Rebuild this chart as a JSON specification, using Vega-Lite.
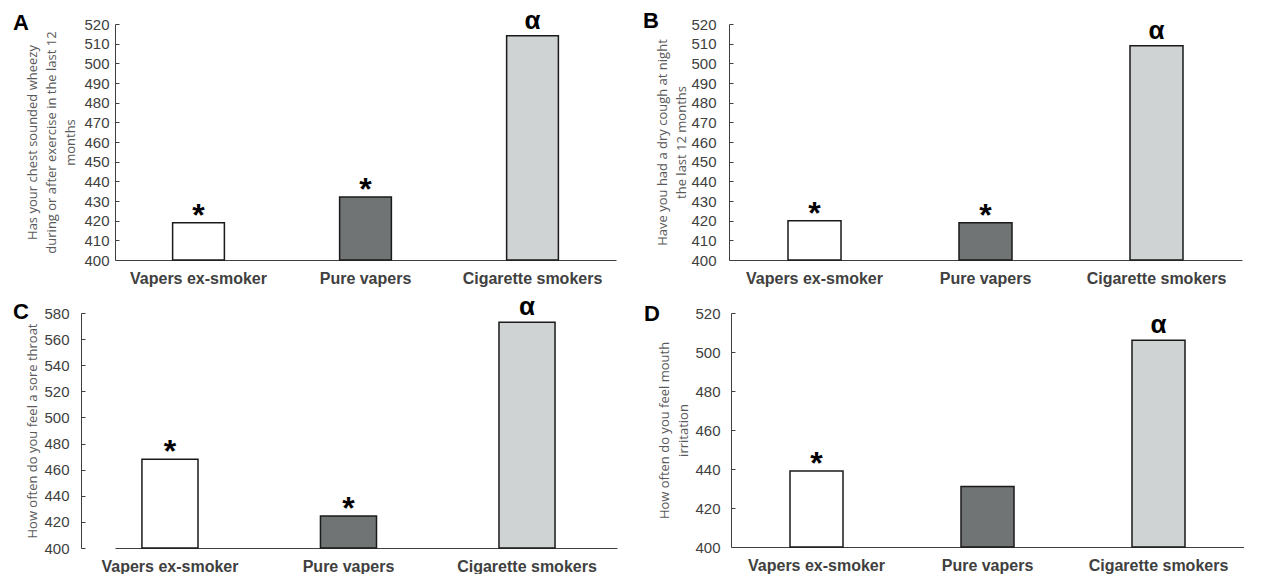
{
  "$schema": "https://vega.github.io/schema/vega-lite/v6.json",
  "background": "white",
  "padding": {"left": 12, "top": 7, "right": 0, "bottom": 0},
  "datasets": {
    "bars": [
      {"panel": "A", "group": "Vapers ex-smoker", "value": 419, "star": "*", "alpha": ""},
      {"panel": "A", "group": "Pure vapers", "value": 432, "star": "*", "alpha": ""},
      {"panel": "A", "group": "Cigarette smokers", "value": 514, "star": "", "alpha": "α"},
      {"panel": "B", "group": "Vapers ex-smoker", "value": 420, "star": "*", "alpha": ""},
      {"panel": "B", "group": "Pure vapers", "value": 419, "star": "*", "alpha": ""},
      {"panel": "B", "group": "Cigarette smokers", "value": 509, "star": "", "alpha": "α"},
      {"panel": "C", "group": "Vapers ex-smoker", "value": 468, "star": "*", "alpha": ""},
      {"panel": "C", "group": "Pure vapers", "value": 424.5, "star": "*", "alpha": ""},
      {"panel": "C", "group": "Cigarette smokers", "value": 573, "star": "", "alpha": "α"},
      {"panel": "D", "group": "Vapers ex-smoker", "value": 439, "star": "*", "alpha": ""},
      {"panel": "D", "group": "Pure vapers", "value": 431, "star": "", "alpha": ""},
      {"panel": "D", "group": "Cigarette smokers", "value": 506, "star": "", "alpha": "α"}
    ]
  },
  "config": {
    "view": {"stroke": null},
    "axis": {"grid": false, "domainColor": "#404040", "tickColor": "#404040"},
    "axisX": {"ticks": false, "labelFont": "Liberation Sans", "labelFontSize": 16, "labelFontWeight": "bold", "labelColor": "#404040", "labelPadding": 10, "labelAngle": 0, "title": null},
    "axisY": {"tickSize": -4, "labelFont": "Liberation Sans", "labelFontSize": 15, "labelColor": "#404040", "titleFont": "Open Sans", "titleFontSize": 13, "titleFontWeight": "normal", "titleColor": "#595959"},
    "title": {"font": "Liberation Sans", "fontSize": 22, "fontWeight": "bold", "color": "#000000", "anchor": "start", "frame": "bounds"}
  },
  "spacing": 8,
  "vconcat": [
    {
      "spacing": 26,
      "hconcat": [
        {
          "width": 501, "height": 236,
          "title": {"text": "A", "dx": -14, "dy": 31},
          "data": {"name": "bars"},
          "transform": [{"filter": "datum.panel === 'A'"}],
          "encoding": {
            "x": {"field": "group", "type": "nominal", "sort": null, "scale": {"paddingInner": 0.69, "paddingOuter": 0.345}},
            "y": {"field": "value", "type": "quantitative", "scale": {"domain": [400, 520], "nice": false, "zero": false}, "axis": {"values": [400,410,420,430,440,450,460,470,480,490,500,510,520], "labelPadding": 10, "titlePadding": 6, "titleLineHeight": 19, "title": ["Has your chest sounded wheezy", "during or after exercise in the last  12", "months"]}}
          },
          "layer": [
            {"mark": {"type": "bar", "stroke": "#1a1a1a", "strokeWidth": 1.5}, "encoding": {"y2": {"datum": 400}, "color": {"field": "group", "type": "nominal", "scale": {"domain": ["Vapers ex-smoker", "Pure vapers", "Cigarette smokers"], "range": ["#ffffff", "#717475", "#d0d3d4"]}, "legend": null}}},
            {"mark": {"type": "text", "font": "Liberation Sans", "fontSize": 32, "fontWeight": "bold", "baseline": "alphabetic", "dy": 3, "color": "#000000"}, "encoding": {"text": {"field": "star"}}},
            {"mark": {"type": "text", "font": "Liberation Sans", "fontSize": 26, "fontWeight": "bold", "baseline": "alphabetic", "dy": -7, "color": "#000000"}, "encoding": {"text": {"field": "alpha"}}}
          ]
        },
        {
          "width": 513, "height": 236,
          "title": {"text": "B", "dx": -14, "dy": 20},
          "data": {"name": "bars"},
          "transform": [{"filter": "datum.panel === 'B'"}],
          "encoding": {
            "x": {"field": "group", "type": "nominal", "sort": null, "scale": {"paddingInner": 0.69, "paddingOuter": 0.345}},
            "y": {"field": "value", "type": "quantitative", "scale": {"domain": [400, 520], "nice": false, "zero": false}, "axis": {"values": [400,410,420,430,440,450,460,470,480,490,500,510,520], "labelPadding": 17, "titlePadding": 2, "titleLineHeight": 19, "title": ["Have you had a dry cough at night", "the last 12 months"]}}
          },
          "layer": [
            {"mark": {"type": "bar", "stroke": "#1a1a1a", "strokeWidth": 1.5}, "encoding": {"y2": {"datum": 400}, "color": {"field": "group", "type": "nominal", "scale": {"domain": ["Vapers ex-smoker", "Pure vapers", "Cigarette smokers"], "range": ["#ffffff", "#717475", "#d0d3d4"]}, "legend": null}}},
            {"mark": {"type": "text", "font": "Liberation Sans", "fontSize": 32, "fontWeight": "bold", "baseline": "alphabetic", "dy": 3, "color": "#000000"}, "encoding": {"text": {"field": "star"}}},
            {"mark": {"type": "text", "font": "Liberation Sans", "fontSize": 26, "fontWeight": "bold", "baseline": "alphabetic", "dy": -7, "color": "#000000"}, "encoding": {"text": {"field": "alpha"}}}
          ]
        }
      ]
    },
    {
      "spacing": 26,
      "hconcat": [
        {
          "width": 502, "height": 235,
          "title": {"text": "C", "dx": -14, "dy": 34},
          "data": {"name": "bars"},
          "transform": [{"filter": "datum.panel === 'C'"}],
          "encoding": {
            "x": {"field": "group", "type": "nominal", "sort": null, "scale": {"paddingInner": 0.686, "paddingOuter": 0.249, "align": 0.303}},
            "y": {"field": "value", "type": "quantitative", "scale": {"domain": [400, 580], "nice": false, "zero": false}, "axis": {"values": [400,420,440,460,480,500,520,540,560,580], "offset": 34, "labelPadding": 16, "titlePadding": 4, "title": "How often do you feel a sore throat"}}
          },
          "layer": [
            {"mark": {"type": "bar", "stroke": "#1a1a1a", "strokeWidth": 1.5}, "encoding": {"y2": {"datum": 400}, "color": {"field": "group", "type": "nominal", "scale": {"domain": ["Vapers ex-smoker", "Pure vapers", "Cigarette smokers"], "range": ["#ffffff", "#717475", "#d0d3d4"]}, "legend": null}}},
            {"mark": {"type": "text", "font": "Liberation Sans", "fontSize": 32, "fontWeight": "bold", "baseline": "alphabetic", "dy": 3, "color": "#000000"}, "encoding": {"text": {"field": "star"}}},
            {"mark": {"type": "text", "font": "Liberation Sans", "fontSize": 26, "fontWeight": "bold", "baseline": "alphabetic", "dy": -7, "color": "#000000"}, "encoding": {"text": {"field": "alpha"}}}
          ]
        },
        {
          "width": 513, "height": 234,
          "title": {"text": "D", "dx": -15, "dy": 24},
          "data": {"name": "bars"},
          "transform": [{"filter": "datum.panel === 'D'"}],
          "encoding": {
            "x": {"field": "group", "type": "nominal", "sort": null, "scale": {"paddingInner": 0.69, "paddingOuter": 0.345}},
            "y": {"field": "value", "type": "quantitative", "scale": {"domain": [400, 520], "nice": false, "zero": false}, "axis": {"values": [400,420,440,460,480,500,520], "labelPadding": 15, "titlePadding": 4, "titleLineHeight": 19, "title": ["How often do you feel mouth", "irritation"]}}
          },
          "layer": [
            {"mark": {"type": "bar", "stroke": "#1a1a1a", "strokeWidth": 1.5}, "encoding": {"y2": {"datum": 400}, "color": {"field": "group", "type": "nominal", "scale": {"domain": ["Vapers ex-smoker", "Pure vapers", "Cigarette smokers"], "range": ["#ffffff", "#717475", "#d0d3d4"]}, "legend": null}}},
            {"mark": {"type": "text", "font": "Liberation Sans", "fontSize": 32, "fontWeight": "bold", "baseline": "alphabetic", "dy": 3, "color": "#000000"}, "encoding": {"text": {"field": "star"}}},
            {"mark": {"type": "text", "font": "Liberation Sans", "fontSize": 26, "fontWeight": "bold", "baseline": "alphabetic", "dy": -7, "color": "#000000"}, "encoding": {"text": {"field": "alpha"}}}
          ]
        }
      ]
    }
  ]
}
